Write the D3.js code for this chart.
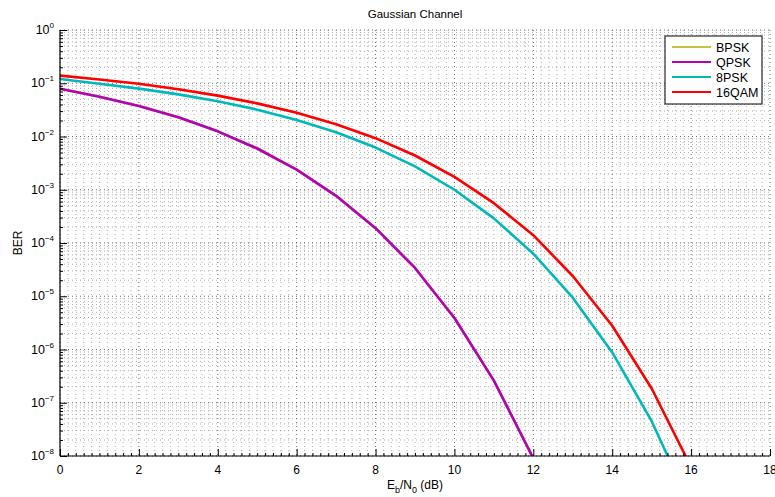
<!DOCTYPE html>
<html lang="en">
<head>
<meta charset="utf-8">
<title>Gaussian Channel</title>
<script src="https://cdnjs.cloudflare.com/ajax/libs/d3/7.8.5/d3.min.js"></script>
<style>
body { margin: 0; background: #fff; }
text { font-family: "Liberation Sans", Arial, sans-serif; fill: #000; }
.grid line { stroke: #444; stroke-width: 0.8; stroke-dasharray: 1,3; }
.grid .minor { stroke: #999; }
</style>
</head>
<body>
<script>
// Eb/N0 in dB, one sample per dB
var ebno = [0,1,2,3,4,5,6,7,8,9,10,11,12,13,14,15,16];

// BER (BPSK sits underneath QPSK)
var bpsk  = [7.9e-2,5.6e-2,3.75e-2,2.29e-2,1.25e-2,5.95e-3,2.39e-3,7.7e-4,1.9e-4,3.4e-5,3.9e-6,2.6e-7,9.0e-9];
var qpsk  = [7.9e-2,5.6e-2,3.75e-2,2.29e-2,1.25e-2,5.95e-3,2.39e-3,7.7e-4,1.9e-4,3.4e-5,3.9e-6,2.6e-7,9.0e-9];
var psk8  = [0.12,0.0976,0.0793,0.0618,0.0458,0.0319,0.0205,0.0120,6.2e-3,2.75e-3,1.0e-3,2.9e-4,6.3e-5,9.4e-6,8.8e-7,4.5e-8,1.1e-9];
var qam16 = [0.139,0.118,0.0976,0.0774,0.0586,0.0419,0.0279,0.0170,9.3e-3,4.4e-3,1.75e-3,5.6e-4,1.4e-4,2.4e-5,2.8e-6,1.85e-7,6.2e-9];

var seriesNames = ["BPSK","QPSK","8PSK","16QAM"];
var seriesColors = ["#c4c43c","#b400b8","#00b8b8","#ff0000"];
var seriesData = [bpsk, qpsk, psk8, qam16];

var xTicks = [0,2,4,6,8,10,12,14,16,18];
var yExps = [0,-1,-2,-3,-4,-5,-6,-7,-8];

var W = 775, H = 497;
var margin = {top:30, right:5, bottom:41, left:60};
var width = W - margin.left - margin.right,
    height = H - margin.top - margin.bottom;

var svg = d3.select("body").append("svg")
  .attr("width", W).attr("height", H);

var g = svg.append("g")
  .attr("transform", "translate(" + margin.left + "," + margin.top + ")");

var x = d3.scaleLinear().domain([0,18]).range([0,width]);
var y = d3.scaleLog().domain([1e-8,1]).range([height,0]);

// minor values
var xMinor = d3.range(0, 18.0001, 0.2).filter(function(v){ return Math.abs(v/2 - Math.round(v/2)) > 1e-6; });
var yMinor = [];
yExps.slice(0,-1).forEach(function(e){
  for (var k = 2; k <= 9; k++) yMinor.push(k * Math.pow(10, e-1));
});

// grid
var grid = g.append("g").attr("class","grid");
grid.selectAll(".vx").data(xMinor).enter().append("line")
  .attr("class","minor")
  .attr("x1", function(d){return x(d);}).attr("x2", function(d){return x(d);})
  .attr("y1", 0).attr("y2", height);
grid.selectAll(".hy").data(yMinor).enter().append("line")
  .attr("class","minor")
  .attr("x1", 0).attr("x2", width)
  .attr("y1", function(d){return y(d);}).attr("y2", function(d){return y(d);});
grid.selectAll(".vX").data(xTicks).enter().append("line")
  .attr("x1", function(d){return x(d);}).attr("x2", function(d){return x(d);})
  .attr("y1", 0).attr("y2", height);
grid.selectAll(".hY").data(yExps).enter().append("line")
  .attr("x1", 0).attr("x2", width)
  .attr("y1", function(d){return y(Math.pow(10,d));}).attr("y2", function(d){return y(Math.pow(10,d));});

// curves
g.append("clipPath").attr("id","clip").append("rect")
  .attr("width", width).attr("height", height);

var line = d3.line()
  .x(function(d,i){ return x(ebno[i]); })
  .y(function(d){ return y(d); });

g.append("g").attr("clip-path","url(#clip)")
  .selectAll("path").data(seriesData).enter().append("path")
  .attr("d", line)
  .attr("fill","none")
  .attr("stroke", function(d,i){ return seriesColors[i]; })
  .attr("stroke-width", 2.6)
  .attr("stroke-linejoin","round");

// axes (ticks pointing inwards)
g.append("g").attr("transform","translate(0," + height + ")")
  .call(d3.axisTop(x).tickValues(xTicks).tickSize(7).tickFormat(""))
  .select(".domain").remove();
g.append("g").attr("transform","translate(0," + height + ")")
  .call(d3.axisTop(x).tickValues(xMinor).tickSize(3).tickFormat(""))
  .select(".domain").remove();
g.append("line").attr("x1",0).attr("x2",width).attr("y1",height).attr("y2",height)
  .attr("stroke","#000").attr("stroke-width",1.2);

g.append("g")
  .call(d3.axisRight(y).tickValues(yExps.map(function(e){return Math.pow(10,e);})).tickSize(7).tickFormat(""))
  .select(".domain").remove();
g.append("g")
  .call(d3.axisRight(y).tickValues(yMinor).tickSize(3).tickFormat(""))
  .select(".domain").remove();
g.append("line").attr("x1",0).attr("x2",0).attr("y1",0).attr("y2",height)
  .attr("stroke","#000").attr("stroke-width",1.2);

// tick labels
g.selectAll(".xl").data(xTicks).enter().append("text")
  .attr("x", function(d){return x(d);})
  .attr("y", height + 18)
  .attr("text-anchor","middle")
  .style("font-size","12px")
  .text(function(d){return d;});

var yl = g.selectAll(".yl").data(yExps).enter().append("text")
  .attr("x", -6)
  .attr("y", function(d){return y(Math.pow(10,d)) + 4;})
  .attr("text-anchor","end")
  .style("font-size","12.5px");
yl.append("tspan").text("10");
yl.append("tspan").attr("dy",-6).style("font-size","8px")
  .text(function(d){ return d === 0 ? "0" : "\u2212" + (-d); });

// labels
svg.append("text").attr("x", 415).attr("y", 18).attr("text-anchor","middle")
  .style("font-size","11.5px").text("Gaussian Channel");

var xl = svg.append("text").attr("x", 415).attr("y", 489).attr("text-anchor","middle")
  .style("font-size","12px");
xl.append("tspan").text("E");
xl.append("tspan").attr("dy",4).style("font-size","9px").text("b");
xl.append("tspan").attr("dy",-4).text("/N");
xl.append("tspan").attr("dy",4).style("font-size","9px").text("0");
xl.append("tspan").attr("dy",-4).text(" (dB)");

svg.append("text")
  .attr("transform","translate(22," + (margin.top + height/2) + ") rotate(-90)")
  .attr("text-anchor","middle")
  .style("font-size","12px").text("BER");

// legend
var lg = svg.append("g").attr("transform","translate(665,36)");
lg.append("rect").attr("width",97).attr("height",68)
  .attr("fill","#fff").attr("stroke","#000").attr("stroke-width",1);
var item = lg.selectAll(".it").data(seriesNames).enter().append("g")
  .attr("transform", function(d,i){ return "translate(0," + (11 + i*15) + ")"; });
item.append("line").attr("x1",7).attr("x2",46).attr("y1",0).attr("y2",0)
  .attr("stroke", function(d,i){return seriesColors[i];}).attr("stroke-width",2.2);
item.append("text").attr("x",51).attr("y",4.5).style("font-size","12.5px")
  .text(function(d){return d;});
</script>
</body>
</html>
